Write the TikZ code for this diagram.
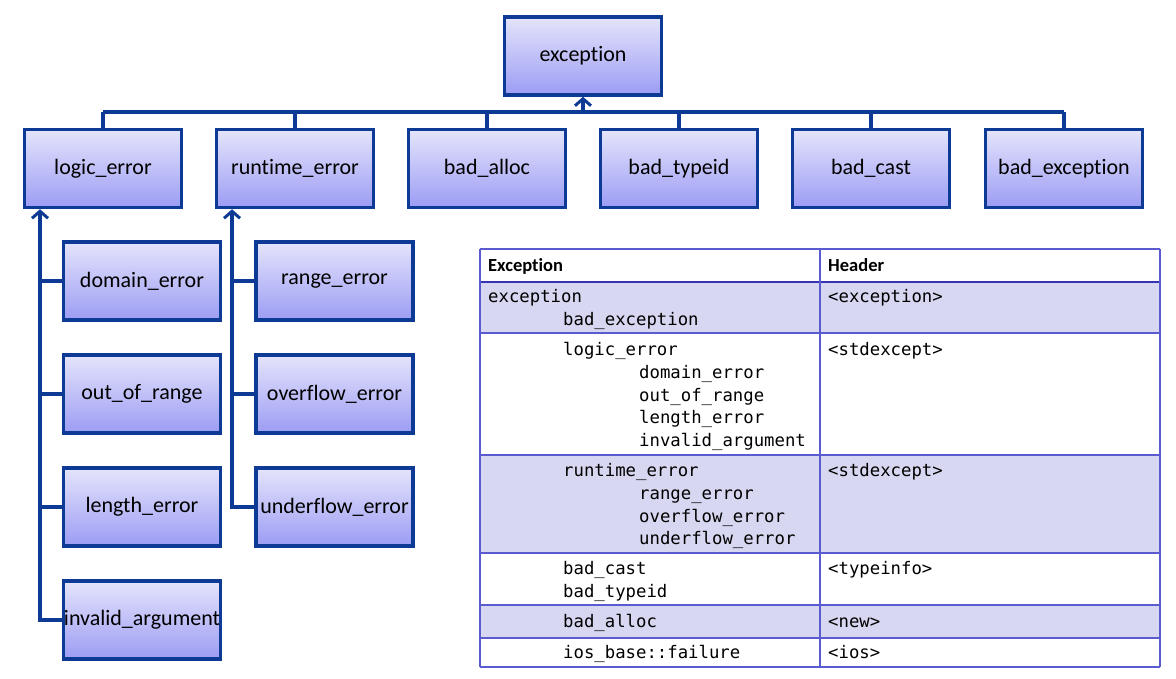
\documentclass[tikz,border=0pt]{standalone}
\usepackage{fontspec}
\setmainfont{Carlito}[Ligatures=NoCommon]
\newfontfamily\codefont{DejaVu Sans Mono}
\usetikzlibrary{arrows.meta}

\definecolor{edgeblue}{HTML}{0C3A94}
\definecolor{boxtop}{HTML}{E4E4FC}
\definecolor{boxbot}{HTML}{9C9CF4}
\definecolor{tableline}{HTML}{5B5BD0}
\definecolor{headline}{HTML}{3434B4}
\definecolor{rowshade}{HTML}{D7D7F1}

\tikzset{
  classbox/.style={draw=edgeblue, line width=3.5pt, top color=boxtop, bottom color=boxbot,
    minimum width=157pt, minimum height=78pt, inner sep=0pt,
    font=\fontsize{22}{25}\selectfont},
  conn/.style={draw=edgeblue, line width=3.5pt},
  uparrow/.style={conn, -{Straight Barb[length=7pt,width=16pt,line width=3pt]}},
  cell/.style={anchor=base west, inner sep=0pt, font=\codefont\fontsize{17.3}{20}\selectfont},
  headcell/.style={anchor=base west, inner sep=0pt, font=\bfseries\fontsize{18.5}{20}\selectfont},
  grid/.style={draw=tableline, line width=1.8pt}
}

\begin{document}
\begin{tikzpicture}[x=1pt,y=-1pt]
\useasboundingbox (0,0) rectangle (1176,679);

% ---------------- class hierarchy ----------------
\node[classbox] (exc) at (583,56) {exception};

\node[classbox] (logic)   at (103,168.5)  {logic\_error};
\node[classbox] (runtime) at (295,168.5)  {runtime\_error};
\node[classbox] (alloc)   at (487,168.5)  {bad\_alloc};
\node[classbox] (typeid)  at (679,168.5)  {bad\_typeid};
\node[classbox] (cast)    at (871,168.5)  {bad\_cast};
\node[classbox] (badexc)  at (1064,168.5) {bad\_exception};

\node[classbox] (domain)  at (142,281) {domain\_error};
\node[classbox] (oor)     at (142,394) {out\_of\_range};
\node[classbox] (length)  at (142,507) {length\_error};
\node[classbox] (invalid) at (142,620) {invalid\_argument};

\node[classbox] (range)     at (334.5,281) {range\_error};
\node[classbox] (overflow)  at (334.5,394) {overflow\_error};
\node[classbox] (underflow) at (334.5,507) {underflow\_error};

% bus joining the second row to exception
\coordinate (bus) at (583,112);
\draw[conn] (logic.north |- bus) -- (badexc.north |- bus);
\foreach \n in {logic,runtime,alloc,typeid,cast,badexc}
  \draw[conn] (\n.north) -- (\n.north |- bus);
\draw[uparrow] (bus) -- (exc.south);

% trunk of logic_error
\coordinate (ltrunk) at (40,0);
\foreach \n in {domain,oor,length}
  \draw[conn] (\n.west) -- (\n.west -| ltrunk);
\draw[uparrow] (invalid.west) -- (invalid.west -| ltrunk) -- (ltrunk |- logic.south);

% trunk of runtime_error
\coordinate (rtrunk) at (232,0);
\foreach \n in {range,overflow}
  \draw[conn] (\n.west) -- (\n.west -| rtrunk);
\draw[uparrow] (underflow.west) -- (underflow.west -| rtrunk) -- (rtrunk |- runtime.south);

% ---------------- header table ----------------
\fill[rowshade] (480,282) rectangle (1160,333);
\fill[rowshade] (480,455) rectangle (1160,553);
\fill[rowshade] (480,605) rectangle (1160,638);

\foreach \yy in {249,333,455,553,605,638,667}
  \draw[grid] (480,\yy) -- (1160,\yy);
\draw[draw=headline, line width=2.8pt] (480,282) -- (1160,282);
\foreach \xx in {480,820,1160}
  \draw[grid] (\xx,249) -- (\xx,667);

\node[headcell] (hexc) at (488,272) {Exception};
\node[headcell] (hhdr) at (828,272) {Header};

\node[cell] (t1a) at (488,302) {exception};
\node[cell] (t1b) at (563,325) {bad\_exception};
\node[cell] (t1h) at (828,302) {<exception>};

\node[cell] (t2a) at (563,355) {logic\_error};
\node[cell] (t2b) at (639,378) {domain\_error};
\node[cell] (t2c) at (639,401) {out\_of\_range};
\node[cell] (t2d) at (639,423) {length\_error};
\node[cell] (t2e) at (639,446) {invalid\_argument};
\node[cell] (t2h) at (828,355) {<stdexcept>};

\node[cell] (t3a) at (563,476) {runtime\_error};
\node[cell] (t3b) at (639,499) {range\_error};
\node[cell] (t3c) at (639,522) {overflow\_error};
\node[cell] (t3d) at (639,544) {underflow\_error};
\node[cell] (t3h) at (828,476) {<stdexcept>};

\node[cell] (t4a) at (563,574) {bad\_cast};
\node[cell] (t4b) at (563,597) {bad\_typeid};
\node[cell] (t4h) at (828,574) {<typeinfo>};

\node[cell] (t5a) at (563,627) {bad\_alloc};
\node[cell] (t5h) at (828,627) {<new>};

\node[cell] (t6a) at (563,658) {ios\_base::failure};
\node[cell] (t6h) at (828,658) {<ios>};
\end{tikzpicture}
\end{document}
